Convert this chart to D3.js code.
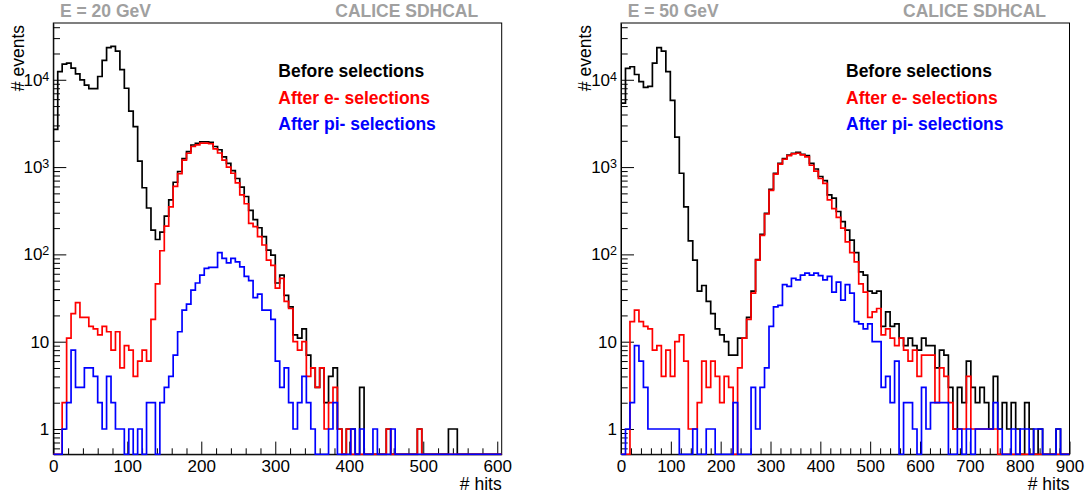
<!DOCTYPE html>
<html><head><meta charset="utf-8">
<script src="https://cdn.jsdelivr.net/npm/d3@7"></script>
<style>
body{margin:0;background:#fff}
svg{display:block}
text{font-family:"Liberation Sans",Arial,Helvetica,sans-serif}
</style>
</head><body>
<svg id="c" width="1089" height="500"></svg>
<script>
// ---------- data ----------
const binWidth20 = 6;   // hits per bin, E = 20 GeV
const binWidth50 = 9;   // hits per bin, E = 50 GeV
const seriesNames = ["Before selections", "After e- selections", "After pi- selections"];
const seriesColors = ["#000000", "#ff0000", "#0000ff"];

const black20 = [2700,12400,15100,15500,13600,11700,10000,8700,7900,7900,
 10900,16700,23300,24100,21300,13100,8000,4380,2900,1170,
 580,340,190,148,180,275,420,670,890,1250,
 1500,1790,1870,1950,1950,1920,1720,1580,1310,1100,
 910,740,590,460,320,250,202,160,112,98,
 47,58,34,25,12,11,14,7,5,3,
 5,2,4,5,1,0,1,1,0,3,
 0,0,0,0,0,1,0,0,0,0,
 0,0,1,0,0,0,0,0,0,1,
 1,0,0,0,0,0,0,0,0,0,0];
const red20 = [0,0,2,11,21,28,19,19,15,14,
 12,15,13,8,13,5,9,8,4,6,
 8,6,18,46,110,211,350,600,840,1200,
 1440,1720,1800,1880,1880,1850,1620,1450,1200,1000,
 850,660,480,380,227,208,160,128,86,75,
 41,53,29,24,10,8,10,4,5,3,
 5,1,2,3,1,0,1,0,0,0,
 0,0,0,0,0,1,0,0,0,0,
 0,0,1,0,0,0,0,0,0,0,
 0,0,0,0,0,0,0,0,0,0,0];
const blue20 = [0,0,1,2,8,3,3,5,5,4,
 2,1,4,2,1,1,0,1,0,1,
 0,2,2,0,2,3,4,7,13,23,
 27,39,47,58,69,71,71,105,90,80,
 90,82,72,56,50,32,35,23,23,18,
 6,3,5,2,1,2,4,2,1,0,
 0,0,1,2,0,0,0,1,0,1,
 0,0,1,0,0,0,1,0,0,0,
 0,0,0,0,0,0,0,0,0,0,
 0,0,0,0,0,0,0,0,0,0,0];

const black50 = [5400,13500,14100,11500,9500,8200,8400,15500,23300,21300,
 12400,5800,2200,850,350,143,86,38,44,29,
 21,14,12,10,7,7,11,11,19,38,
 87,170,295,555,850,1100,1250,1370,1440,1470,
 1400,1350,1100,950,780,700,480,440,310,237,
 190,146,105,63,58,38,36,38,15,22,
 15,16,11,9,11,9,8,11,9,9,
 5,8,7,3,1,3,2,6,3,2,
 3,2,1,4,1,2,1,2,1,0,
 2,1,0,1,0,0,0,1,0,0];
const red50 = [0,0,17,23,17,15,14,8,9,4,
 8,4,10,12,6,1,1,2,6,3,
 6,4,2,4,3,0,5,11,18,36,
 86,165,290,540,830,1080,1230,1350,1420,1440,
 1380,1310,1050,900,740,650,420,335,265,200,
 139,105,82,46,37,19,22,24,12,14,
 11,9,11,8,6,8,4,7,7,7,
 2,5,4,2,1,1,1,4,1,1,
 1,1,1,1,0,0,0,0,0,0,
 0,0,0,0,0,0,0,0,0,0];
const blue50 = [0,1,2,9,6,3,1,1,1,1,
 1,1,1,0,0,0,1,0,0,1,
 1,0,0,0,0,2,0,0,0,3,
 1,3,5,15,25,26,45,43,53,51,
 58,61,58,61,57,51,56,37,48,30,
 45,36,17,16,14,16,10,10,3,4,
 2,6,0,2,2,1,0,3,1,2,
 2,2,2,0,0,1,0,1,0,1,
 1,1,1,2,1,0,0,1,0,1,
 1,0,1,1,0,0,0,1,0,0];

const xTicks20 = [0,100,200,300,400,500,600];
const xTicks50 = [0,100,200,300,400,500,600,700,800,900];
const yDecades = [1,10,100,1000,10000];
const yTickLabels = [["1",""],["10",""],["10","2"],["10","3"],["10","4"]];
const titles = ["E = 20 GeV", "E = 50 GeV"];
const experiment = "CALICE SDHCAL";
const xTitle = "# hits", yTitle = "# events";

// ---------- layout ----------
const svg = d3.select("#c");
const yTop = 23, yBot = 454.3;
const y = d3.scaleLog().domain([0.513, 44700]).range([yBot, yTop]);

const panels = [
  {id:"p20", left:53.3, right:501.7, xmax:606, bw:binWidth20, ticks:xTicks20, title:titles[0], data:[black20,red20,blue20]},
  {id:"p50", left:621, right:1069.5, xmax:900, bw:binWidth50, ticks:xTicks50, title:titles[1], data:[black50,red50,blue50]}
];

const minorY = [];
for (let e = -1; e <= 4; e++) for (let m = 2; m <= 9; m++) {
  const v = m * Math.pow(10, e);
  if (v >= y.domain()[0] && v <= y.domain()[1]) minorY.push(v);
}

panels.forEach(p => {
  const x = d3.scaleLinear().domain([0, p.xmax]).range([p.left, p.right]);
  const g = svg.append("g");

  // frame
  g.append("rect").attr("x", p.left).attr("y", yTop)
    .attr("width", p.right - p.left).attr("height", yBot - yTop)
    .attr("fill", "none").attr("stroke", "#000").attr("stroke-width", 1);

  // y axis major + minor
  const yMaj = g.append("g").attr("transform", `translate(${p.left},0)`)
    .call(d3.axisLeft(y).tickValues(yDecades).tickSize(-13).tickSizeOuter(0).tickFormat(""));
  const yMin = g.append("g").attr("transform", `translate(${p.left},0)`)
    .call(d3.axisLeft(y).tickValues(minorY).tickSize(-6.7).tickSizeOuter(0).tickFormat(""));
  yMin.select(".domain").remove();

  // y labels
  yDecades.forEach((d, i) => {
    const t = g.append("text").attr("x", p.left - 4).attr("y", y(d) + 6)
      .attr("text-anchor", "end").attr("font-size", 17).attr("fill", "#000");
    t.append("tspan").text(yTickLabels[i][0]);
    if (yTickLabels[i][1]) t.append("tspan").attr("font-size", 12.5).attr("dy", -5).text(yTickLabels[i][1]);
  });

  // x axis major + minor
  const minorX = d3.range(0, p.ticks[p.ticks.length - 1] + 1, 20).filter(v => v % 100 !== 0);
  const xMaj = g.append("g").attr("transform", `translate(0,${yBot})`)
    .call(d3.axisBottom(x).tickValues(p.ticks).tickSize(-12.7).tickSizeOuter(0).tickPadding(5.7).tickFormat(d3.format("d")));
  xMaj.selectAll("text").attr("font-size", 17).attr("fill", "#000")
    .style("font-family", '"Liberation Sans",Arial,sans-serif');
  const xMin = g.append("g").attr("transform", `translate(0,${yBot})`)
    .call(d3.axisBottom(x).tickValues(minorX).tickSize(-6).tickSizeOuter(0).tickFormat(""));
  xMin.select(".domain").remove();
  g.selectAll(".domain").attr("stroke", "#000");

  // histograms
  const clipId = "clip-" + p.id;
  svg.append("clipPath").attr("id", clipId).append("rect")
    .attr("x", p.left).attr("y", yTop).attr("width", p.right - p.left).attr("height", yBot - yTop + 1);
  const line = d3.line();
  p.data.forEach((arr, si) => {
    const pts = [[x(0), yBot]];
    arr.forEach((v, i) => {
      const yy = v > 0 ? y(v) : yBot;
      pts.push([x(i * p.bw), yy], [x((i + 1) * p.bw), yy]);
    });
    pts.push([x(arr.length * p.bw), yBot]);
    g.append("path").attr("d", line(pts)).attr("fill", "none")
      .attr("stroke", seriesColors[si]).attr("stroke-width", 1.7)
      .attr("stroke-linejoin", "miter").attr("clip-path", `url(#${clipId})`);
  });

  // titles
  g.append("text").attr("x", p.left + 6.7).attr("y", 17).attr("font-size", 17.5)
    .attr("font-weight", "bold").attr("fill", "#a0a0a0").text(p.title);
  g.append("text").attr("x", p.right - 23.5).attr("y", 17.3).attr("font-size", 17.5)
    .attr("text-anchor", "end").attr("font-weight", "bold").attr("fill", "#a0a0a0").text(experiment);

  // legend
  seriesNames.forEach((n, i) => {
    g.append("text").attr("x", p.left + 225).attr("y", 77.3 + i * 26.5)
      .attr("font-size", 17.5).attr("font-weight", "bold").attr("fill", seriesColors[i]).text(n);
  });

  // axis titles
  g.append("text").attr("x", p.right).attr("y", 490).attr("text-anchor", "end")
    .attr("font-size", 17.5).attr("fill", "#000").text(xTitle);
  g.append("text").attr("transform", `translate(${p.left - 29.7},${yTop + 2}) rotate(-90)`)
    .attr("text-anchor", "end").attr("font-size", 17.5).attr("fill", "#000").text(yTitle);
});
</script>
</body></html>
